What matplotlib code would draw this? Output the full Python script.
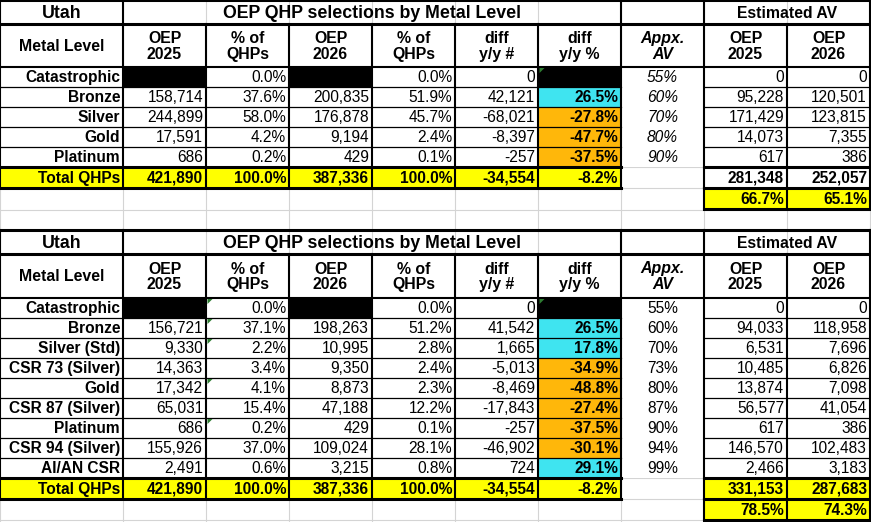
import matplotlib
matplotlib.use("Agg")
import matplotlib.pyplot as plt
from matplotlib.patches import Rectangle, Polygon

plt.rcParams['font.family'] = ['Liberation Sans', 'DejaVu Sans']

# ---------------- data ----------------
state = "Utah"
table_title = "OEP QHP selections by Metal Level"
av_title = "Estimated AV"
headers = ["Metal Level", "OEP\n2025", "% of\nQHPs", "OEP\n2026", "% of\nQHPs",
           "diff\ny/y #", "diff\ny/y %", "Appx.\nAV", "OEP\n2025", "OEP\n2026"]

t1_levels = ["Catastrophic", "Bronze", "Silver", "Gold", "Platinum"]
t1_oep25 = [None, 158714, 244899, 17591, 686]
t1_pct25 = [0.0, 37.6, 58.0, 4.2, 0.2]
t1_oep26 = [None, 200835, 176878, 9194, 429]
t1_pct26 = [0.0, 51.9, 45.7, 2.4, 0.1]
t1_diff = [0, 42121, -68021, -8397, -257]
t1_diffpct = [None, 26.5, -27.8, -47.7, -37.5]
t1_av = [55, 60, 70, 80, 90]
t1_est25 = [0, 95228, 171429, 14073, 617]
t1_est26 = [0, 120501, 123815, 7355, 386]
t1_total = [421890, 100.0, 387336, 100.0, -34554, -8.2]
t1_est_total = [281348, 252057]
t1_est_pct = [66.7, 65.1]

t2_levels = ["Catastrophic", "Bronze", "Silver (Std)", "CSR 73 (Silver)", "Gold",
             "CSR 87 (Silver)", "Platinum", "CSR 94 (Silver)", "AI/AN CSR"]
t2_oep25 = [None, 156721, 9330, 14363, 17342, 65031, 686, 155926, 2491]
t2_pct25 = [0.0, 37.1, 2.2, 3.4, 4.1, 15.4, 0.2, 37.0, 0.6]
t2_oep26 = [None, 198263, 10995, 9350, 8873, 47188, 429, 109024, 3215]
t2_pct26 = [0.0, 51.2, 2.8, 2.4, 2.3, 12.2, 0.1, 28.1, 0.8]
t2_diff = [0, 41542, 1665, -5013, -8469, -17843, -257, -46902, 724]
t2_diffpct = [None, 26.5, 17.8, -34.9, -48.8, -27.4, -37.5, -30.1, 29.1]
t2_av = [55, 60, 70, 73, 80, 87, 90, 94, 99]
t2_est25 = [0, 94033, 6531, 10485, 13874, 56577, 617, 146570, 2466]
t2_est26 = [0, 118958, 7696, 6826, 7098, 41054, 386, 102483, 3183]
t2_total = [421890, 100.0, 387336, 100.0, -34554, -8.2]
t2_est_total = [331153, 287683]
t2_est_pct = [78.5, 74.3]

# ---------------- style ----------------
W, H = 871, 522
XE = [0, 123, 206, 289, 372, 455, 538, 621, 704, 787, 870]
YELLOW = "#FFFF00"
CYAN = "#3FE4F0"
ORANGE = "#FFB70A"
GRID = "#D4D4D4"
TRI = "#2E7D32"
FS = 11.2
LW_THIN = 0.9
LW_MED = 1.5
LW_THICK = 2.2

fig = plt.figure(figsize=(W / 100, H / 100), dpi=100)
ax = fig.add_axes([0, 0, 1, 1])
ax.set_xlim(0, W)
ax.set_ylim(H, 0)
ax.axis("off")


def fmt_int(v):
    return f"{v:,}"


def fmt_pct(v):
    return f"{v:.1f}%"


def fill(c, y0, y1, color, c2=None):
    c2 = c if c2 is None else c2
    ax.add_patch(Rectangle((XE[c], y0), XE[c2 + 1] - XE[c], y1 - y0,
                           facecolor=color, edgecolor="none", zorder=1))


def hline(y, x0, x1, lw, color="black", z=3):
    ax.plot([x0, x1], [y, y], color=color, lw=lw, solid_capstyle="projecting", zorder=z)


def vline(x, y0, y1, lw, color="black", z=3):
    ax.plot([x, x], [y0, y1], color=color, lw=lw, solid_capstyle="projecting", zorder=z)


def cell_text(c, y0, y1, s, align="right", bold=False, italic=False, size=FS):
    if align == "right":
        x = XE[c + 1] - 3
    elif align == "left":
        x = XE[c] + 3
    else:
        x = (XE[c] + XE[c + 1]) / 2
    ax.text(x, (y0 + y1) / 2 + 0.8, s, ha=align, va="center", fontsize=size,
            fontweight="bold" if bold else "normal",
            fontstyle="italic" if italic else "normal", color="black", zorder=5,
            linespacing=1.05)


def triangle(c, y0):
    x = XE[c] + 1.5
    ax.add_patch(Polygon([[x, y0 + 1], [x + 5, y0 + 1], [x, y0 + 6]],
                         closed=True, facecolor=TRI, edgecolor="none", zorder=6))


# background light spreadsheet gridlines
all_rows = [0, 24, 67, 87, 107, 127, 147, 167, 188, 210, 230, 254, 298,
            318, 338, 358, 378, 398, 418, 438, 458, 478, 499, 520]
for y in all_rows:
    hline(y, 0, W, 0.8, GRID, z=0)
for x in XE:
    vline(x, 0, H, 0.8, GRID, z=0)


def draw_table(ytop, levels, oep25, pct25, oep26, pct26, diff, diffpct, av,
               est25, est26, total, est_total, est_pct, av_italic, est_total_yellow,
               tri_pct_rows, tri_diff_rows, header_h):
    yt0, yt1 = ytop, ytop + 24
    yh0, yh1 = yt1, yt1 + header_h
    n = len(levels)
    rows = [(yh1 + 20 * i, yh1 + 20 * (i + 1)) for i in range(n)]
    ytot0 = rows[-1][1]
    ytot1 = ytot0 + 21
    yx0, yx1 = ytot1, ytot1 + 21

    # fills
    for i, (r0, r1) in enumerate(rows):
        ax.add_patch(Rectangle((XE[0], r0), XE[10] - XE[0], r1 - r0,
                               facecolor="white", edgecolor="none", zorder=0.5))
        if oep25[i] is None:
            fill(1, r0, r1, "black")
        if oep26[i] is None:
            fill(3, r0, r1, "black")
        if diffpct[i] is None:
            fill(6, r0, r1, "black")
        else:
            fill(6, r0, r1, CYAN if diffpct[i] > 0 else ORANGE)
    fill(0, ytot0, ytot1, YELLOW, 6)
    if est_total_yellow:
        fill(8, ytot0, ytot1, YELLOW, 9)
    fill(8, yx0, yx1, YELLOW, 9)

    # titles
    ax.text((XE[0] + XE[1]) / 2, (yt0 + yt1) / 2 + 1, state, ha="center", va="center",
            fontsize=12.8, fontweight="bold", zorder=5)
    ax.text((XE[1] + XE[7]) / 2, (yt0 + yt1) / 2 + 1, table_title, ha="center",
            va="center", fontsize=12.8, fontweight="bold", zorder=5)
    ax.text((XE[8] + XE[10]) / 2, (yt0 + yt1) / 2 + 1, av_title, ha="center",
            va="center", fontsize=11.3, fontweight="bold", zorder=5)

    # headers
    for c, h in enumerate(headers):
        cell_text(c, yh0, yh1, h, align="center", bold=True, italic=(c == 7),
                  size=FS + 0.2)

    # data rows
    for i, (r0, r1) in enumerate(rows):
        cell_text(0, r0, r1, levels[i], bold=True)
        if oep25[i] is not None:
            cell_text(1, r0, r1, fmt_int(oep25[i]))
        cell_text(2, r0, r1, fmt_pct(pct25[i]))
        if oep26[i] is not None:
            cell_text(3, r0, r1, fmt_int(oep26[i]))
        cell_text(4, r0, r1, fmt_pct(pct26[i]))
        cell_text(5, r0, r1, fmt_int(diff[i]))
        if diffpct[i] is not None:
            cell_text(6, r0, r1, fmt_pct(diffpct[i]), bold=True)
        cell_text(7, r0, r1, f"{av[i]}%", align="center", italic=av_italic)
        cell_text(8, r0, r1, fmt_int(est25[i]))
        cell_text(9, r0, r1, fmt_int(est26[i]))
        if i in tri_pct_rows:
            triangle(2, r0)
        if i in tri_diff_rows:
            triangle(6, r0)

    # total row
    cell_text(0, ytot0, ytot1, "Total QHPs", bold=True)
    tot_fmt = [fmt_int, fmt_pct, fmt_int, fmt_pct, fmt_int, fmt_pct]
    for k, v in enumerate(total):
        cell_text(k + 1, ytot0, ytot1, tot_fmt[k](v), bold=True)
    cell_text(8, ytot0, ytot1, fmt_int(est_total[0]), bold=True)
    cell_text(9, ytot0, ytot1, fmt_int(est_total[1]), bold=True)
    cell_text(8, yx0, yx1, fmt_pct(est_pct[0]), bold=True)
    cell_text(9, yx0, yx1, fmt_pct(est_pct[1]), bold=True)

    # borders
    hline(yt0, 0, XE[10], LW_THICK)
    hline(yt1, 0, XE[10], LW_THICK)
    hline(yh1, 0, XE[10], LW_MED)
    for x in [XE[0], XE[1], XE[7], XE[8], XE[10]]:
        vline(x, yt0, yt1, LW_MED)
    for x in XE:
        vline(x, yh0, ytot1, LW_MED)
    for (r0, r1) in rows[:-1]:
        hline(r1, XE[0], XE[7], LW_THIN)
        hline(r1, XE[8], XE[10], LW_THIN)
    hline(ytot0, XE[0], XE[7], LW_THICK)
    hline(ytot0, XE[8], XE[10], LW_THICK)
    hline(ytot1, XE[0], XE[7], LW_THICK)
    hline(ytot1, XE[8], XE[10], LW_THICK)
    # extra AV row box
    hline(yx1, XE[8], XE[10], LW_THICK)
    for x in [XE[8], XE[9], XE[10]]:
        vline(x, yx0, yx1, LW_MED)


draw_table(0, t1_levels, t1_oep25, t1_pct25, t1_oep26, t1_pct26, t1_diff, t1_diffpct,
           t1_av, t1_est25, t1_est26, t1_total, t1_est_total, t1_est_pct,
           av_italic=True, est_total_yellow=False, tri_pct_rows=[], tri_diff_rows=[0],
           header_h=43)
draw_table(230, t2_levels, t2_oep25, t2_pct25, t2_oep26, t2_pct26, t2_diff, t2_diffpct,
           t2_av, t2_est25, t2_est26, t2_total, t2_est_total, t2_est_pct,
           av_italic=False, est_total_yellow=True, tri_pct_rows=[0, 1, 2, 4, 6],
           tri_diff_rows=[0], header_h=44)

fig.savefig("out.png", dpi=100)
